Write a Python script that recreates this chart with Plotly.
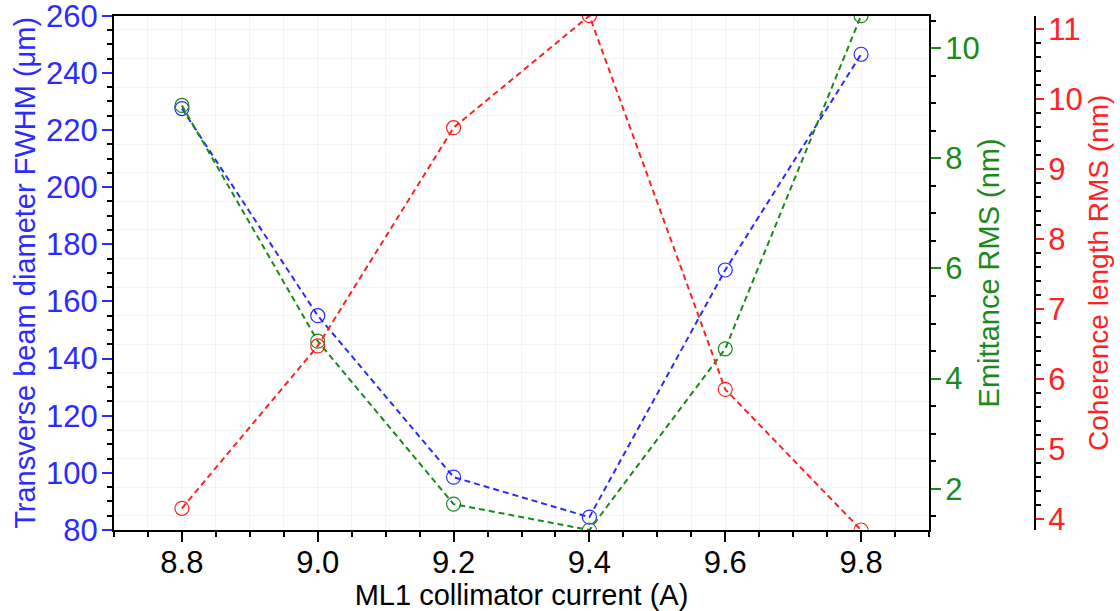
import plotly.graph_objects as go

current = [8.8, 9.0, 9.2, 9.4, 9.6, 9.8]
diameter = [227.5, 155.0, 98.5, 84.5, 171.0, 246.5]
emittance = [8.96, 4.68, 1.72, 1.25, 4.54, 10.59]
coherence = [4.15, 6.47, 9.59, 11.19, 5.85, 3.84]
grid_vals = [85, 95, 105, 115, 125, 135, 145, 155, 165, 175, 185, 195, 205, 215, 225, 235, 245, 255]

BLUE = "#2b2bff"
GREEN = "#1a8a1a"
RED = "#ff2222"
FONT = "Liberation Sans, Arial, sans-serif"
FS = 31
TFS = 29

fig = go.Figure()

def add(y, col, axis):
    fig.add_trace(go.Scatter(
        x=current, y=y, yaxis=axis, mode="lines+markers",
        line=dict(color=col, width=2, dash="6px,4px"),
        marker=dict(symbol="circle-open", size=14, color=col, line=dict(width=1.2, color=col)),
        showlegend=False, cliponaxis=True))

# grid helper trace
fig.add_trace(go.Scatter(x=[None], y=[None], yaxis="y4", showlegend=False))
add(diameter, BLUE, "y")
add(emittance, GREEN, "y2")
add(coherence, RED, "y3")

xd = [114/1120, 929/1120]
yd = [1 - 530/611, 1 - 15.7/611]

fig.update_layout(
    width=1120, height=611,
    margin=dict(l=0, r=0, t=0, b=0),
    paper_bgcolor="white", plot_bgcolor="white",
    font=dict(family=FONT, size=FS, color="black"),
    xaxis=dict(
        domain=xd, range=[8.7, 9.9], dtick=0.2, tick0=8.8, tickformat=".1f",
        showline=True, linecolor="black", linewidth=2, mirror=True,
        ticks="outside", ticklen=10, tickwidth=1.5, tickcolor="black",
        minor=dict(dtick=0.05, ticks="outside", ticklen=5, tickwidth=1.5, tickcolor="black",
                   showgrid=True, gridcolor="#f3f3f3", gridwidth=1),
        showgrid=True, gridcolor="#f3f3f3", gridwidth=1, zeroline=False,
        tickfont=dict(size=FS, color="black"), ticklabelstandoff=-6,
        title=dict(text="ML1 collimator current (A)", font=dict(size=TFS, color="black"), standoff=0),
        automargin=False,
    ),
    yaxis=dict(
        domain=yd, range=[80, 260], dtick=20, tick0=80,
        showline=True, linecolor="black", linewidth=2,
        ticks="outside", ticklen=10, tickwidth=1.5, tickcolor=BLUE,
        minor=dict(dtick=5, ticks="outside", ticklen=5, tickwidth=1.5, tickcolor="black", showgrid=False),
        showgrid=False, zeroline=False, ticklabeloverflow="allow",
        tickfont=dict(size=FS, color=BLUE), ticklabelstandoff=-2,
        title=dict(text="Transverse beam diameter FWHM (μm)", font=dict(size=TFS, color=BLUE), standoff=2),
        automargin=False,
    ),
    yaxis4=dict(
        domain=yd, range=[80, 260], overlaying="y", anchor="x", side="left",
        tickmode="array", tickvals=grid_vals, showticklabels=False, ticks="",
        showgrid=True, gridcolor="#f3f3f3", gridwidth=1, showline=False, zeroline=False,
        automargin=False,
    ),
    yaxis2=dict(
        range=[min(emittance), max(emittance)], overlaying="y", anchor="x", side="right",
        dtick=2, tick0=0,
        showline=True, linecolor="black", linewidth=2,
        ticks="outside", ticklen=10, tickwidth=1.5, tickcolor=GREEN,
        minor=dict(dtick=0.5, ticks="outside", ticklen=5, tickwidth=1.5, tickcolor="black", showgrid=False),
        showgrid=False, zeroline=False, ticklabeloverflow="allow",
        tickfont=dict(size=FS, color=GREEN), ticklabelstandoff=-2,
        title=dict(text="Emittance RMS (nm)", font=dict(size=TFS, color=GREEN), standoff=0),
        automargin=False,
    ),
    yaxis3=dict(
        range=[min(coherence), max(coherence)], overlaying="y", anchor="free", side="right",
        position=1035/1120, dtick=1, tick0=0,
        showline=True, linecolor="black", linewidth=2,
        ticks="outside", ticklen=8, tickwidth=1.5, tickcolor=RED,
        minor=dict(dtick=0.2, ticks="outside", ticklen=5, tickwidth=1.5, tickcolor="black", showgrid=False),
        showgrid=False, zeroline=False, ticklabeloverflow="allow",
        tickfont=dict(size=FS, color=RED), ticklabelstandoff=-2,
        title=dict(text="Coherence length RMS (nm)", font=dict(size=28, color=RED), standoff=2),
        automargin=False,
    ),
)

fig.write_html("out.html")
